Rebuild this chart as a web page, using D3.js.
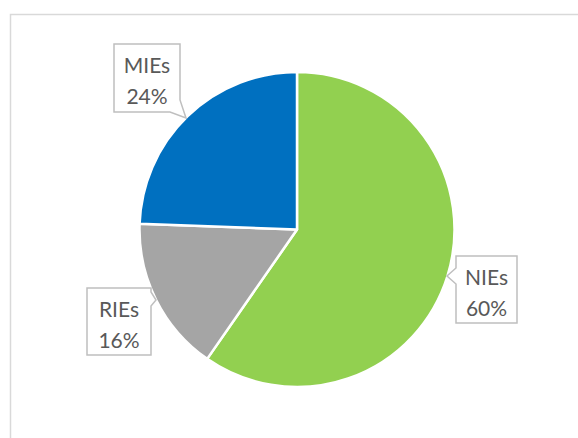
<!DOCTYPE html>
<html>
<head>
<meta charset="utf-8">
<script src="https://cdn.jsdelivr.net/npm/d3@7"></script>
<style>
  html, body { margin: 0; padding: 0; background: #fff; }
  svg { display: block; }
</style>
</head>
<body>
<svg id="chart" width="578" height="438"></svg>
<script>
// ---- data ----
const categories = ["NIEs", "RIEs", "MIEs"];
const values = [59.6, 15.9, 24.4];
const percentLabels = ["60%", "16%", "24%"];
const colors = ["#92D050", "#A5A5A5", "#0070C0"];

// ---- layout (callout boxes) ----
const callouts = {
  NIEs: { x: 456, y: 256, w: 61, h: 67, tip: [447, 276], side: "left", a: 268, b: 284 },
  RIEs: { x: 87, y: 288, w: 64, h: 67, tip: [156, 300], side: "right", a: 292, b: 306 },
  MIEs: { x: 114, y: 44, w: 66, h: 68, tip: [186, 118], side: "corner" }
};

const svg = d3.select("#chart");

// chart frame
svg.append("rect")
  .attr("x", 10.5).attr("y", 14.5)
  .attr("width", 600).attr("height", 460)
  .attr("fill", "#fff")
  .attr("stroke", "#D9D9D9").attr("stroke-width", 1.5);

const cx = 297, cy = 229.5, r = 157.5;

const pie = d3.pie().sort(null).value(d => d.value);
const arc = d3.arc().innerRadius(0).outerRadius(r);
const data = categories.map((c, i) => ({ cat: c, value: values[i], label: percentLabels[i], color: colors[i] }));

const g = svg.append("g").attr("transform", `translate(${cx},${cy})`);
g.selectAll("path.slice")
  .data(pie(data))
  .join("path")
  .attr("class", "slice")
  .attr("d", arc)
  .attr("fill", d => d.data.color)
  .attr("stroke", "#fff")
  .attr("stroke-width", 2.5)
  .attr("stroke-linejoin", "round");

// callouts
function calloutPath(c) {
  const x0 = c.x, y0 = c.y, x1 = c.x + c.w, y1 = c.y + c.h;
  if (c.side === "left") {
    return `M${x0},${y0}H${x1}V${y1}H${x0}V${c.b}L${c.tip[0]},${c.tip[1]}L${x0},${c.a}Z`;
  } else if (c.side === "right") {
    return `M${x0},${y0}H${x1}V${c.a}L${c.tip[0]},${c.tip[1]}L${x1},${c.b}V${y1}H${x0}Z`;
  } else {
    return `M${x0},${y0}H${x1}V${y1 - 12}L${c.tip[0]},${c.tip[1]}L${x1 - 10},${y1}H${x0}Z`;
  }
}

data.forEach(d => {
  const c = callouts[d.cat];
  svg.append("path")
    .attr("d", calloutPath(c))
    .attr("fill", "#fff")
    .attr("stroke", "#BFBFBF")
    .attr("stroke-width", 1.5);
  const t = svg.append("text")
    .attr("text-anchor", "middle")
    .attr("font-family", "Lato, 'Open Sans', sans-serif")
    .attr("font-size", 21)
    .attr("fill", "#595959");
  t.append("tspan").attr("x", c.x + c.w / 2).attr("y", c.y + 29).text(d.cat);
  t.append("tspan").attr("x", c.x + c.w / 2).attr("y", c.y + 60).text(d.label);
});
</script>
</body>
</html>
